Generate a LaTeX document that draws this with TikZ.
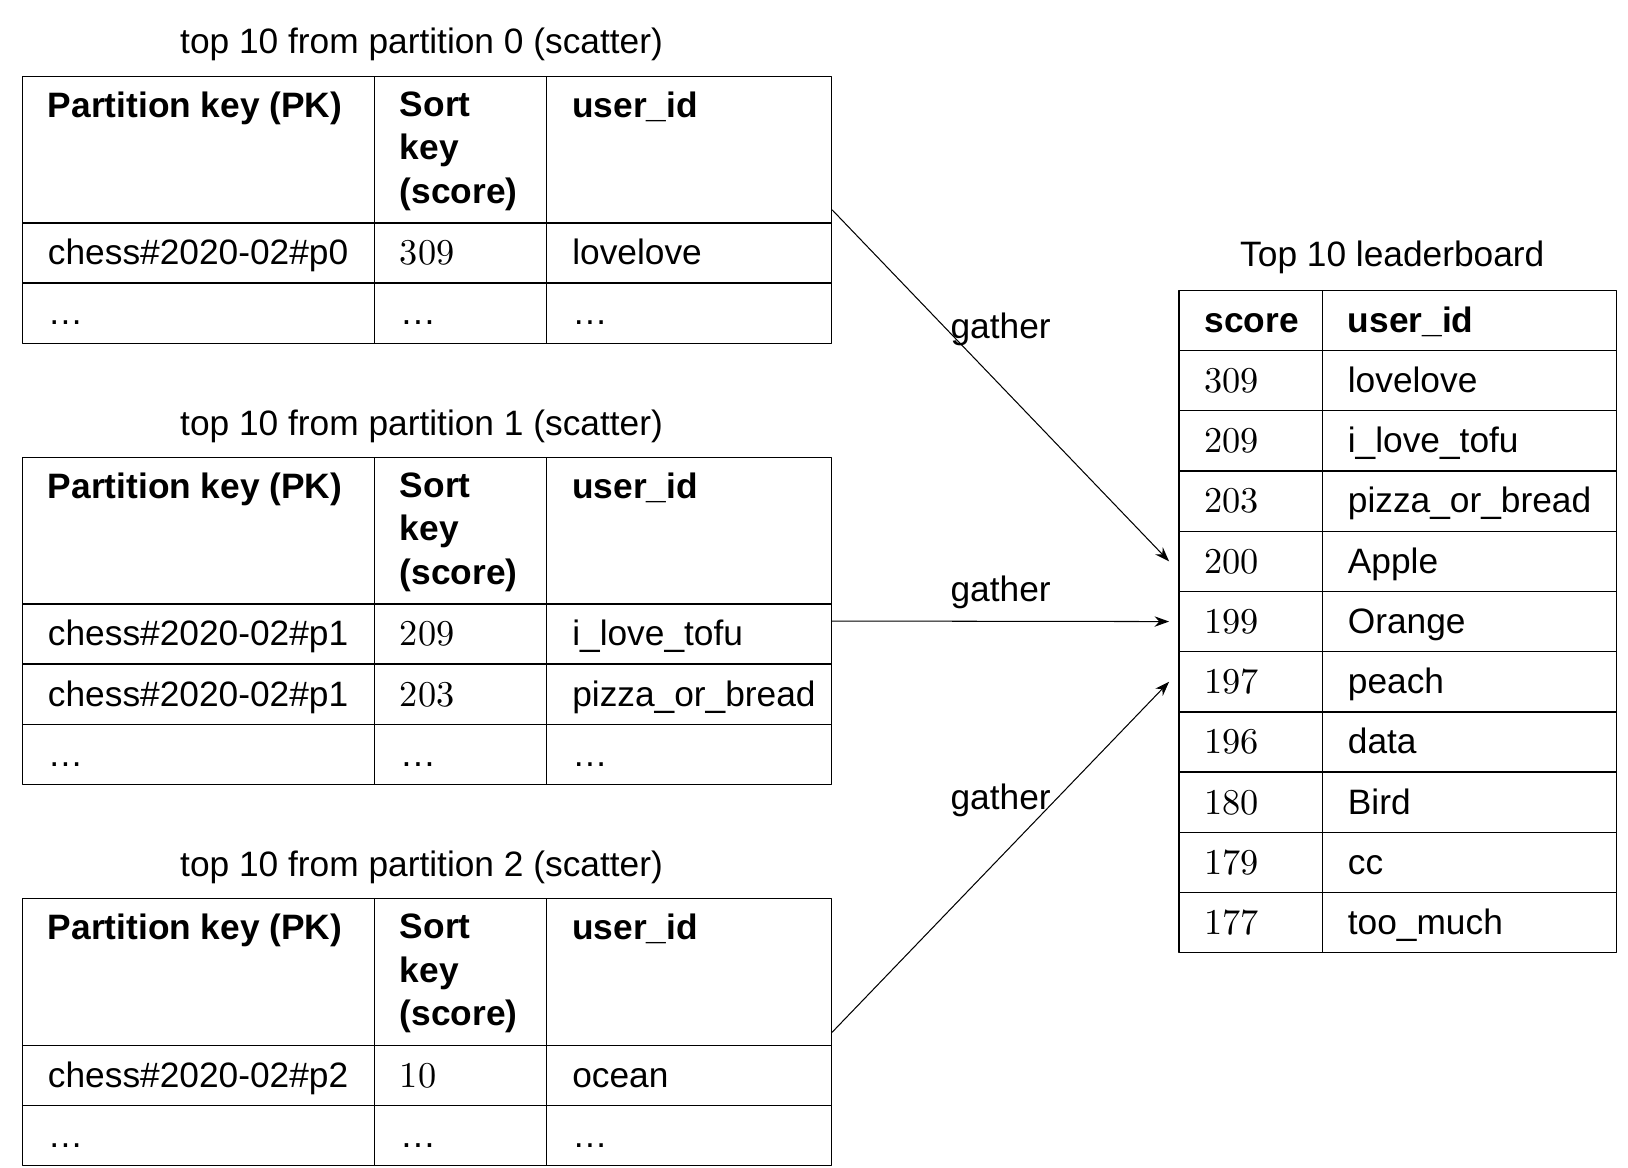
\documentclass[tikz,border=0pt]{standalone}
\usepackage{fontspec}
\setsansfont{Liberation Sans}
\newfontfamily\numfont{lmroman10-regular.otf}
\usepackage{tikz}
\usetikzlibrary{arrows.meta,fit}

\begin{document}
\begin{tikzpicture}[
    x=1pt,
    y=-1pt,
    >=Stealth,
    line cap=round,
    line join=round,
    font=\sffamily\fontsize{34}{42}\selectfont,
    cell/.style={draw=black, line width=1.3pt, anchor=north west, inner sep=0pt, minimum width=#1},
    headcell/.style={cell=#1, minimum height=141pt},
    rowcell/.style={cell=#1, minimum height=58pt},
    txt/.style={anchor=west, inner sep=0pt, text height=29pt, text depth=5pt},
    numtxt/.style={txt, font=\numfont\fontsize{35}{42}\selectfont},
    boldtxt/.style={txt, font=\sffamily\bfseries\fontsize{34}{42}\selectfont},
    headtxt/.style={anchor=north west, inner sep=0pt, align=left, font=\sffamily\bfseries\fontsize{34}{42}\selectfont},
    tabtitle/.style={anchor=base, inner sep=0pt},
    gatherline/.style={draw=black, line width=1pt, -{Stealth[length=14pt,width=10pt]}},
    labelgather/.style={inner sep=0pt, midway},
  ]

  \def\cA{21}
  \def\cB{360}
  \def\cC{526}
  \def\wA{339}
  \def\wB{166}
  \def\wC{274}
  \def\headH{141}
  \def\rowH{58}
  \def\pad{25}
  \def\titleX{406}

  % Partition tables (scatter): title and header row
  \foreach \p/\ty in {0/73, 1/440, 2/865} {
    \node[tabtitle] (title\p) at (\titleX,\ty-21) {top 10 from partition \p\ (scatter)};
    \node[headcell=\wA] (p\p-h1) at (\cA,\ty) {};
    \node[headcell=\wB] (p\p-h2) at (\cB,\ty) {};
    \node[headcell=\wC] (p\p-h3) at (\cC,\ty) {};
    \node[headtxt] (p\p-hk) at (\cA+\pad,\ty+15) {Partition key (PK)};
    \node[headtxt] (p\p-hs) at (\cB+\pad,\ty+15) {Sort\\key\\(score)};
    \node[headtxt] (p\p-hu) at (\cC+\pad,\ty+15) {user\_id};
  }

  % Partition tables: data rows
  \foreach \p/\ty/\rr/\pk/\sk/\uid in {
      0/73/1/chess\#2020-02\#p0/309/lovelove,
      0/73/2/\dots/\sffamily\dots/\dots,
      1/440/1/chess\#2020-02\#p1/209/i\_love\_tofu,
      1/440/2/chess\#2020-02\#p1/203/pizza\_or\_bread,
      1/440/3/\dots/\sffamily\dots/\dots,
      2/865/1/chess\#2020-02\#p2/10/ocean,
      2/865/2/\dots/\sffamily\dots/\dots} {
    \pgfmathsetmacro{\y}{\ty+\headH+(\rr-1)*\rowH}
    \node[rowcell=\wA] (p\p-r\rr-1) at (\cA,\y) {};
    \node[rowcell=\wB] (p\p-r\rr-2) at (\cB,\y) {};
    \node[rowcell=\wC] (p\p-r\rr-3) at (\cC,\y) {};
    \node[txt] (p\p-r\rr-k) at (\cA+\pad,\y+\rowH/2) {\pk};
    \node[numtxt] (p\p-r\rr-s) at (\cB+\pad,\y+\rowH/2) {\sk};
    \node[txt] (p\p-r\rr-u) at (\cC+\pad,\y+\rowH/2) {\uid};
  }

  % Table frames
  \node[fit=(p0-h1)(p0-r2-3), inner sep=0pt] (p0) {};
  \node[fit=(p1-h1)(p1-r3-3), inner sep=0pt] (p1) {};
  \node[fit=(p2-h1)(p2-r2-3), inner sep=0pt] (p2) {};

  \def\lA{1135}
  \def\lB{1273}
  \def\lwA{138}
  \def\lwB{283}
  \def\lTop{279}

  % Leaderboard
  \node[tabtitle] (lbtitle) at (1341,\lTop-22) {Top 10 leaderboard};
  \node[rowcell=\lwA] (lb-h1) at (\lA,\lTop) {};
  \node[rowcell=\lwB] (lb-h2) at (\lB,\lTop) {};
  \node[boldtxt] (lb-hs) at (\lA+\pad,\lTop+\rowH/2) {score};
  \node[boldtxt] (lb-hu) at (\lB+\pad,\lTop+\rowH/2) {user\_id};
  \foreach \rr/\sk/\uid in {1/309/lovelove, 2/209/i\_love\_tofu, 3/203/pizza\_or\_bread,
      4/200/Apple, 5/199/Orange, 6/197/peach, 7/196/data, 8/180/Bird, 9/179/cc, 10/177/too\_much} {
    \node[rowcell=\lwA] (lb-r\rr-1) at (\lA,\lTop+\rr*\rowH) {};
    \node[rowcell=\lwB] (lb-r\rr-2) at (\lB,\lTop+\rr*\rowH) {};
    \node[numtxt] (lb-r\rr-s) at (\lA+\pad,\lTop+\rr*\rowH+\rowH/2) {\sk};
    \node[txt] (lb-r\rr-u) at (\lB+\pad,\lTop+\rr*\rowH+\rowH/2) {\uid};
  }

  % Gather arrows
  \coordinate (in0) at ([xshift=-9pt]lb-r4-1.west);
  \coordinate (in1) at ([xshift=-9pt]lb-r5-1.west);
  \coordinate (in2) at ([xshift=-9pt]lb-r6-1.west);
  \draw[gatherline] (p0.east) -- node[labelgather, above=38pt] (g0) {gather} (in0);
  \draw[gatherline] (p1.east) -- node[labelgather, above=12pt] (g1) {gather} (in1);
  \draw[gatherline] (p2.east) -- node[labelgather, above=38pt] (g2) {gather} (in2);

  \path[use as bounding box] (0,0) rectangle (1568,1124);
\end{tikzpicture}
\end{document}
